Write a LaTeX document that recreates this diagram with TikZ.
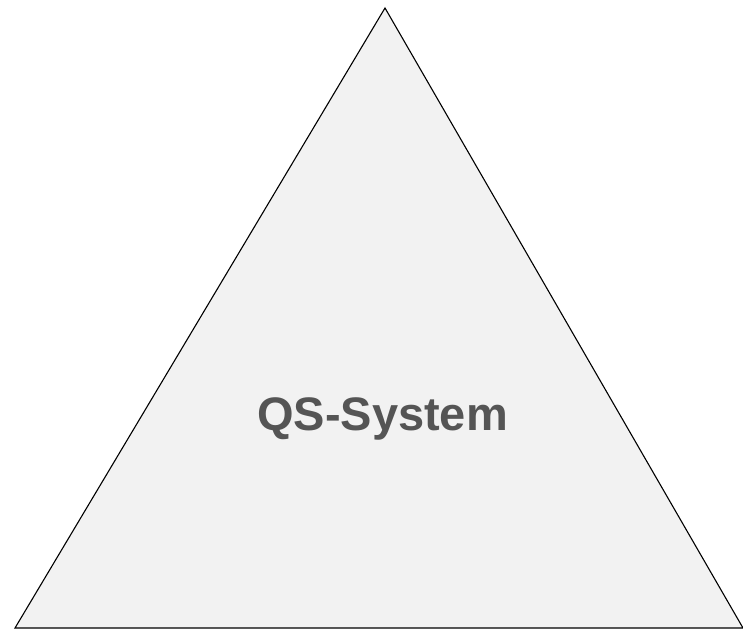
\documentclass[tikz,border=0pt]{standalone}
\usepackage{fontspec}
\setmainfont{Liberation Sans}
\definecolor{trifill}{HTML}{F2F2F2}
\definecolor{txtgray}{HTML}{555555}
\begin{document}
\begin{tikzpicture}[x=1pt,y=-1pt,
  tri/.style={draw=black,fill=trifill,line width=1.1pt,line join=miter},
  lbl/.style={font=\fontsize{47}{56}\selectfont\bfseries,text=txtgray,inner sep=0pt}]
\useasboundingbox (0,0) rectangle (743,629);
\coordinate (L) at (15,628);
\coordinate (R) at (743,628);
\coordinate (T) at (385,8);
\draw[tri] (L) -- (T) -- (R) -- cycle;
\node[lbl,anchor=base] (qs) at (382.5,430) {QS-System};
\end{tikzpicture}
\end{document}
